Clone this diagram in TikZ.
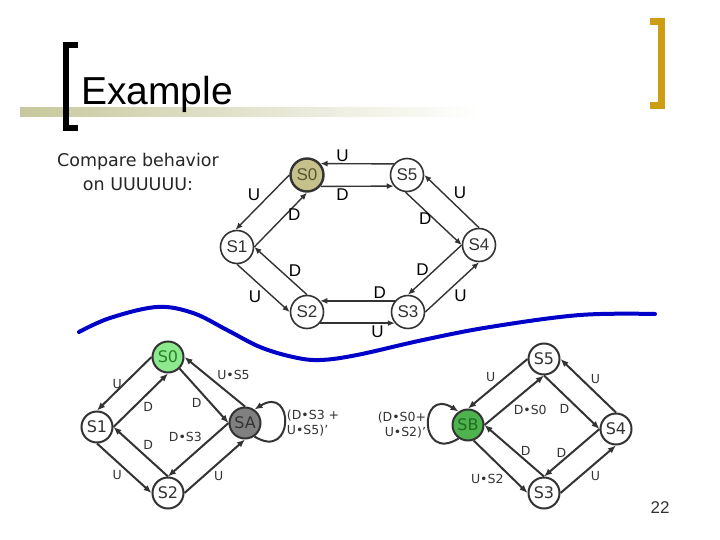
\documentclass[tikz,border=0pt]{standalone}
\usepackage{fontspec}
\setmainfont{Liberation Sans}
\newfontfamily\tahoma{DejaVu Sans}
\usetikzlibrary{arrows.meta,positioning}

\definecolor{edgegray}{RGB}{51,51,51}
\definecolor{olivefill}{RGB}{198,193,138}
\definecolor{olivetext}{RGB}{88,86,48}
\definecolor{lightgreen}{RGB}{141,233,141}
\definecolor{darkgreen}{RGB}{40,130,40}
\definecolor{midgreen}{RGB}{78,178,78}
\definecolor{deepgreen}{RGB}{30,110,30}
\definecolor{stategray}{RGB}{128,128,128}
\definecolor{bargold}{RGB}{205,158,20}
\definecolor{barolive}{RGB}{200,200,158}
\definecolor{cutblue}{RGB}{0,0,200}

\tikzset{
  st/.style={circle,draw=edgegray,line width=1.6pt,fill=white,minimum size=33pt,inner sep=0pt,
    text=edgegray,font=\fontsize{17}{17}\selectfont},
  bst/.style={circle,draw=edgegray,line width=2pt,fill=white,minimum size=31pt,inner sep=0pt,
    text=edgegray,font=\tahoma\fontsize{16}{16}\selectfont},
  tr/.style={draw=edgegray,line width=1.4pt,-{Latex[length=7pt,width=6pt]}},
  btr/.style={draw=edgegray,line width=2pt,-{Latex[length=8pt,width=6.5pt]}},
  lbl/.style={font=\fontsize{17}{17}\selectfont,text=black,inner sep=1.5pt},
  blbl/.style={font=\tahoma\fontsize{12.5}{15}\selectfont,text=edgegray,inner sep=1.5pt},
}

\begin{document}
\begin{tikzpicture}[x=1pt,y=-1pt]
\useasboundingbox (0,0) rectangle (720,540);

% title bar
\shade[left color=barolive,right color=white,draw=none] (20,108) rectangle (480,116.5);
\draw[black,line width=6pt,line join=miter] (78,45) -| (66,128.5) -- (78,128.5);
\draw[bargold,line width=7pt,line join=miter] (650,21.5) -| (661.5,105.5) -- (650,105.5);
\node[anchor=base west,inner sep=0pt,font=\fontsize{39}{39}\selectfont] (title) at (81,105) {Example};
\node[align=center,font=\tahoma\fontsize{17.5}{24}\selectfont,text=black!85] (cmp) at (138,172)
  {Compare behavior\\on UUUUUU:};

% original machine
\node[st,fill=olivefill,text=olivetext,line width=2.4pt] (tS0) at (307,175) {S0};
\node[st] (tS5) at (407,175) {S5};
\node[st] (tS1) at (237,247) {S1};
\node[st] (tS4) at (479,245) {S4};
\node[st] (tS2) at (307,312) {S2};
\node[st] (tS3) at (408,312) {S3};
\draw[tr] (tS5.140) -- node[lbl,pos=.7,above] {U} (tS0.40);
\draw[tr] (tS0.-40) -- node[lbl,pos=.3,below] {D} (tS5.220);
\draw[tr] (tS0.180) -- node[lbl,midway,anchor=south east] {U} (tS1.95);
\draw[tr] (tS1.0) -- node[lbl,pos=.6,right] {D} (tS0.-90);
\draw[tr] (tS5.-95) -- node[lbl,midway,left] {D} (tS4.180);
\draw[tr] (tS4.90) -- node[lbl,midway,above right] {U} (tS5.0);
\draw[tr] (tS1.-90) -- node[lbl,midway,below left] {U} (tS2.180);
\draw[tr] (tS2.90) -- node[lbl,midway,right=6pt] {D} (tS1.0);
\draw[tr] (tS3.140) -- node[lbl,pos=.2,above] {D} (tS2.40);
\draw[tr] (tS2.-40) -- node[lbl,pos=.77,below] {U} (tS3.220);
\draw[tr] (tS4.180) -- node[lbl,midway,left=4pt] {D} (tS3.90);
\draw[tr] (tS3.0) -- node[lbl,midway,below right] {U} (tS4.-90);

% cut
\draw[cutblue,line width=4pt,line cap=round] plot[smooth,tension=.6] coordinates {
  (79,332) (110,318) (157,307) (193,313) (227,330) (260,347) (293,357) (320,360)
  (357,355) (423,340) (490,327) (580,315) (655,314)};

% left part
\node[bst,fill=lightgreen,text=darkgreen] (lS0) at (168,357) {S0};
\node[bst] (lS1) at (97,427) {S1};
\node[bst,fill=stategray,text=edgegray] (SA) at (245,423) {SA};
\node[bst] (lS2) at (168,493) {S2};
\draw[btr] (lS0.180) -- node[blbl,midway,left] {U} (lS1.90);
\draw[btr] (lS1.0) -- node[blbl,midway,below right] {D} (lS0.-90);
\draw[btr] (lS0.-45) -- node[blbl,midway,below left] {D} (SA.180);
\draw[btr] (SA.90) -- node[blbl,midway,above right] {U•S5} (lS0.0);
\draw[btr] (lS1.-90) -- node[blbl,midway,below left] {U} (lS2.180);
\draw[btr] (lS2.90) -- node[blbl,midway,above right] {D} (lS1.0);
\draw[btr] (SA.180) -- node[blbl,pos=.4,above left] {D•S3} (lS2.90);
\draw[btr] (lS2.0) -- node[blbl,pos=.45,below right] {U} (SA.-90);
\draw[btr] (SA.-55) .. controls +(40,25) and +(40,-25) ..
  node[blbl,right,align=left] {(D•S3 +\\U•S5)’} (SA.55);

% right part
\node[bst] (rS5) at (544,359) {S5};
\node[bst,fill=midgreen,text=deepgreen] (SB) at (468,425) {SB};
\node[bst] (rS4) at (616,429) {S4};
\node[bst] (rS3) at (544,493) {S3};
\draw[btr] (rS5.180) -- node[blbl,midway,above left] {U} (SB.90);
\draw[btr] (SB.0) -- node[blbl,pos=.45,below right] {D•S0} (rS5.-90);
\draw[btr] (rS5.-90) -- node[blbl,midway,below left] {D} (rS4.180);
\draw[btr] (rS4.90) -- node[blbl,midway,above right] {U} (rS5.0);
\draw[btr] (rS4.180) -- node[blbl,midway,left=3pt] {D} (rS3.90);
\draw[btr] (rS3.0) -- node[blbl,midway,below right] {U} (rS4.-90);
\draw[btr] (rS3.90) -- node[blbl,midway,right=4pt] {D} (SB.0);
\draw[btr] (SB.-70) -- node[blbl,pos=.6,below left] {U•S2} (rS3.180);
\draw[btr] (SB.-125) .. controls +(-40,25) and +(-40,-25) ..
  node[blbl,left,align=right] {(D•S0+\\U•S2)’} (SB.125);

\node[font=\fontsize{17}{17}\selectfont,text=edgegray] (pg) at (660,508) {22};
\end{tikzpicture}
\end{document}
